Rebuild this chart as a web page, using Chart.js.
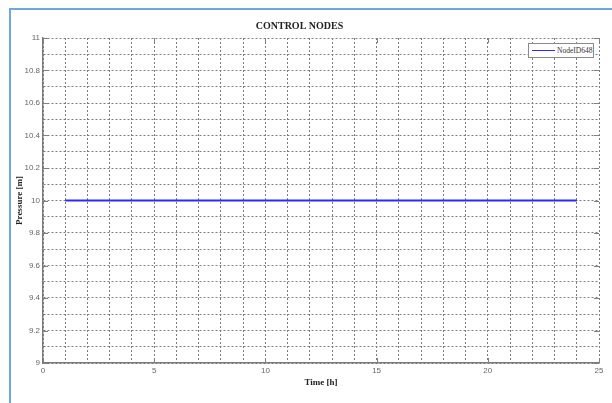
<!DOCTYPE html>
<html>
<head>
<meta charset="utf-8">
<script src="https://cdn.jsdelivr.net/npm/chart.js@4.4.1/dist/chart.umd.min.js"></script>
<style>
  html, body { margin: 0; padding: 0; background: #fff; }
  #wrap { position: relative; width: 612px; height: 403px; overflow: hidden; }
  #frame { position: absolute; left: 9px; top: 8px; right: 0; bottom: 0;
           border-top: 2px solid #6ea6df; border-left: 2px solid #6ea6df; }
  #myChart { position: absolute; left: 0; top: 0; }
  #legend { position: absolute; left: 528px; top: 43px; width: 64px; height: 13px;
            border: 1px solid #8a8a8a; background: #fff;
            font: 7.5px "Liberation Serif", serif; color: #333; }
  #legend .swatch { position: absolute; left: 3px; top: 6px; width: 23px; height: 0;
                    border-top: 1.5px solid #2a2aff; }
  #legend .txt { position: absolute; left: 28px; top: 2px; white-space: nowrap; }
</style>
</head>
<body>
<div id="wrap">
  <div id="frame"></div>
  <canvas id="myChart" width="612" height="403"></canvas>
  <div id="legend"><span class="swatch"></span><span class="txt"></span></div>
</div>
<script>
// Control node pressure over the day

const seriesName = 'NodeID648';
const hours = [1, 2, 3, 4, 5, 6, 7, 8, 9, 10, 11, 12, 13, 14, 15, 16, 17, 18, 19, 20, 21, 22, 23, 24];
const pressure = [10, 10, 10, 10, 10, 10, 10, 10, 10, 10, 10, 10, 10, 10, 10, 10, 10, 10, 10, 10, 10, 10, 10, 10];
const xTickLabels = [0, 5, 10, 15, 20, 25];
const yTickLabels = [9, 9.2, 9.4, 9.6, 9.8, 10, 10.2, 10.4, 10.6, 10.8, 11];

const tickFont = { family: 'Liberation Sans, Arial, sans-serif', size: 8 };
const titleFont = { family: 'Liberation Serif, Times New Roman, serif', size: 9, weight: 'bold' };
const gridStyle = { color: '#7c7c7c', lineWidth: 1, drawTicks: false };
const borderStyle = { display: true, color: '#7a7a7a', width: 1.5, dash: [2, 2] };

// inward tick marks like the original plot
const innerTicks = {
    id: 'innerTicks',
    afterDatasetsDraw(chart) {
        const { ctx, chartArea: a, scales: { x, y } } = chart;
        ctx.save();
        ctx.strokeStyle = '#808080';
        ctx.lineWidth = 1;
        ctx.beginPath();
        xTickLabels.forEach(v => {
            const px = Math.round(x.getPixelForValue(v)) + 0.5;
            ctx.moveTo(px, a.bottom); ctx.lineTo(px, a.bottom - 5);
            ctx.moveTo(px, a.top); ctx.lineTo(px, a.top + 5);
        });
        yTickLabels.forEach(v => {
            const py = Math.round(y.getPixelForValue(v)) + 0.5;
            ctx.moveTo(a.left, py); ctx.lineTo(a.left + 5, py);
            ctx.moveTo(a.right, py); ctx.lineTo(a.right - 5, py);
        });
        ctx.stroke();
        ctx.restore();
    }
};

const ctx = document.getElementById('myChart').getContext('2d');
const myChart = new Chart(ctx, {
    type: 'line',
    data: {
        datasets: [
            {
                label: seriesName,
                data: hours.map((h, i) => ({ x: h, y: pressure[i] })),
                borderColor: '#2a2aff',
                borderWidth: 1.8,
                pointRadius: 0,
                fill: false,
            },
        ],
    },
    options: {
        responsive: false,
        animation: false,
        layout: { padding: { left: 0, right: 13, top: 0, bottom: 0 } },
        plugins: {
            legend: { display: false },
            tooltip: { enabled: false },
            title: {
                display: true,
                text: 'CONTROL NODES',
                color: '#222',
                font: { family: 'Liberation Serif, Times New Roman, serif', size: 10, weight: 'bold' },
                padding: { top: 20, bottom: 6 },
            },
        },
        scales: {
            x: {
                type: 'linear',
                min: 0,
                max: 25,
                grid: gridStyle,
                border: borderStyle,
                ticks: {
                    stepSize: 1,
                    autoSkip: false,
                    maxRotation: 0,
                    padding: 3,
                    color: '#666',
                    font: tickFont,
                    callback: v => (xTickLabels.includes(v) ? String(v) : ''),
                },
                title: {
                    display: true,
                    text: 'Time [h]',
                    color: '#222',
                    font: titleFont,
                    padding: { top: 0, bottom: 15 },
                },
                afterFit(scale) { scale.height = 40; },
            },
            y: {
                min: 9,
                max: 11,
                grid: gridStyle,
                border: borderStyle,
                ticks: {
                    stepSize: 0.1,
                    autoSkip: false,
                    padding: 3,
                    color: '#666',
                    font: tickFont,
                    callback: v => {
                        const r = Math.round(v * 10) / 10;
                        return yTickLabels.includes(r) ? String(r) : '';
                    },
                },
                title: {
                    display: true,
                    text: 'Pressure [m]',
                    color: '#222',
                    font: titleFont,
                    padding: { top: 14, bottom: 0 },
                },
                afterFit(scale) { scale.width = 43; },
            },
        },
    },
    plugins: [innerTicks],
});

document.querySelector('#legend .txt').textContent = myChart.data.datasets[0].label;
</script>
</body>
</html>
